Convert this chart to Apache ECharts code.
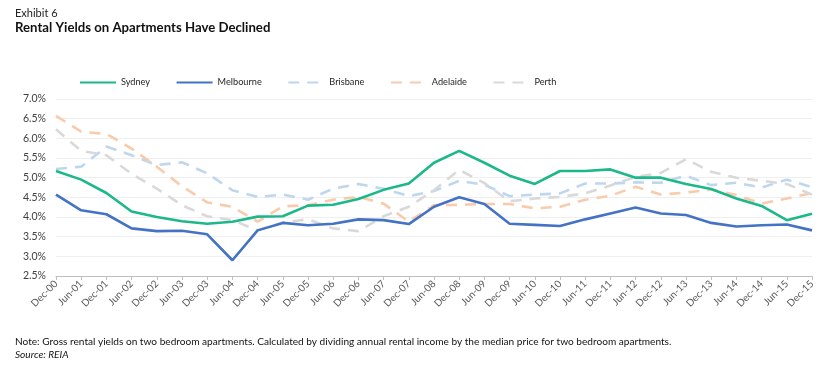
<!DOCTYPE html>
<html>
<head>
<meta charset="utf-8">
<script src="https://cdn.jsdelivr.net/npm/echarts@6/dist/echarts.min.js"></script>
<style>
html,body{margin:0;padding:0;background:#fff;}
#chart{width:831px;height:371px;}
</style>
</head>
<body>
<div id="chart"></div>
<script>
const categories = ["Dec-00","Jun-01","Dec-01","Jun-02","Dec-02","Jun-03","Dec-03","Jun-04","Dec-04","Jun-05","Dec-05","Jun-06","Dec-06","Jun-07","Dec-07","Jun-08","Dec-08","Jun-09","Dec-09","Jun-10","Dec-10","Jun-11","Dec-11","Jun-12","Dec-12","Jun-13","Dec-13","Jun-14","Dec-14","Jun-15","Dec-15"];
const sydney = [5.17,4.95,4.61,4.14,4.00,3.89,3.83,3.88,4.01,4.02,4.29,4.31,4.46,4.69,4.85,5.38,5.68,5.38,5.05,4.84,5.17,5.17,5.21,5.00,5.00,4.84,4.71,4.47,4.28,3.92,4.08];
const melbourne = [4.57,4.17,4.07,3.71,3.64,3.65,3.56,2.90,3.66,3.85,3.79,3.83,3.94,3.92,3.82,4.26,4.50,4.33,3.83,3.80,3.77,3.94,4.09,4.24,4.09,4.05,3.85,3.76,3.79,3.81,3.66];
const brisbane = [5.22,5.28,5.79,5.57,5.32,5.39,5.11,4.68,4.51,4.57,4.44,4.72,4.84,4.72,4.53,4.66,4.92,4.82,4.53,4.57,4.60,4.85,4.85,4.88,4.87,5.05,4.81,4.87,4.75,4.95,4.76];
const adelaide = [6.57,6.17,6.11,5.74,5.28,4.78,4.37,4.26,3.88,4.27,4.30,4.44,4.51,4.34,3.88,4.30,4.31,4.33,4.33,4.22,4.26,4.44,4.54,4.77,4.57,4.62,4.70,4.56,4.34,4.47,4.61];
const perth = [6.23,5.68,5.57,5.10,4.72,4.30,4.02,3.92,3.66,3.86,3.94,3.71,3.64,4.02,4.26,4.68,5.20,4.86,4.40,4.47,4.51,4.60,4.80,5.02,5.12,5.47,5.15,5.00,4.92,4.84,4.57];
const yTicks = {min: 2.5, max: 7.0, interval: 0.5};

const FONT = 'Lato';
const chart = echarts.init(document.getElementById('chart'), null, {renderer: 'canvas'});
function solid(name, data, color) {
  return {name, type: 'line', data, symbol: 'none', z: 5,
    lineStyle: {color, width: 2.6}, itemStyle: {color}};
}
function dashed(name, data, color) {
  return {name, type: 'line', data, symbol: 'none', z: 3,
    lineStyle: {color, width: 2.6, type: [11, 8]}, itemStyle: {color}};
}
chart.setOption({
  animation: false,
  textStyle: {fontFamily: FONT},
  title: [
    {text: 'Exhibit 6', left: 10, top: 3, textStyle: {fontSize: 11, fontWeight: 'normal', color: '#222', fontFamily: FONT}},
    {text: 'Rental Yields on Apartments Have Declined', left: 10, top: 16, textStyle: {fontSize: 13.2, fontWeight: 'bold', color: '#111', fontFamily: FONT}},
    {text: 'Note: Gross rental yields on two bedroom apartments. Calculated by dividing annual rental income by the median price for two bedroom apartments.', left: 10, top: 332, textStyle: {fontSize: 10.1, fontWeight: 'normal', color: '#111', fontFamily: FONT}},
    {text: 'Source: REIA', left: 10, top: 345, textStyle: {fontSize: 10.1, fontWeight: 'normal', fontStyle: 'italic', color: '#111', fontFamily: FONT}}
  ],
  legend: {
    left: 79, top: 78, padding: 0, itemWidth: 36, itemHeight: 10, itemGap: 25.5,
    itemStyle: {opacity: 0},
    textStyle: {fontSize: 9.2, color: '#262626', fontFamily: FONT},
    data: ['Sydney','Melbourne','Brisbane','Adelaide','Perth']
  },
  grid: {left: 56, right: 19, top: 99, bottom: 95, containLabel: false},
  xAxis: {
    type: 'category', data: categories, boundaryGap: false,
    axisLine: {lineStyle: {color: '#bfbfbf'}},
    axisTick: {show: true, alignWithLabel: true, length: 4, lineStyle: {color: '#bfbfbf'}},
    axisLabel: {interval: 0, rotate: 45, fontSize: 10, color: '#595959', margin: 6, fontFamily: FONT},
    splitLine: {show: false}
  },
  yAxis: {
    type: 'value', min: yTicks.min, max: yTicks.max, interval: yTicks.interval,
    axisLine: {show: false}, axisTick: {show: false},
    axisLabel: {fontSize: 10.5, color: '#404040', margin: 10, fontFamily: FONT,
      formatter: v => v.toFixed(1) + '%'},
    splitLine: {lineStyle: {color: '#efefef', width: 1}}
  },
  series: [
    solid('Sydney', sydney, '#1db88a'),
    solid('Melbourne', melbourne, '#4472c4'),
    dashed('Brisbane', brisbane, '#bdd7ee'),
    dashed('Adelaide', adelaide, '#f8cbad'),
    dashed('Perth', perth, '#d9d9d9')
  ]
});
</script>
</body>
</html>
